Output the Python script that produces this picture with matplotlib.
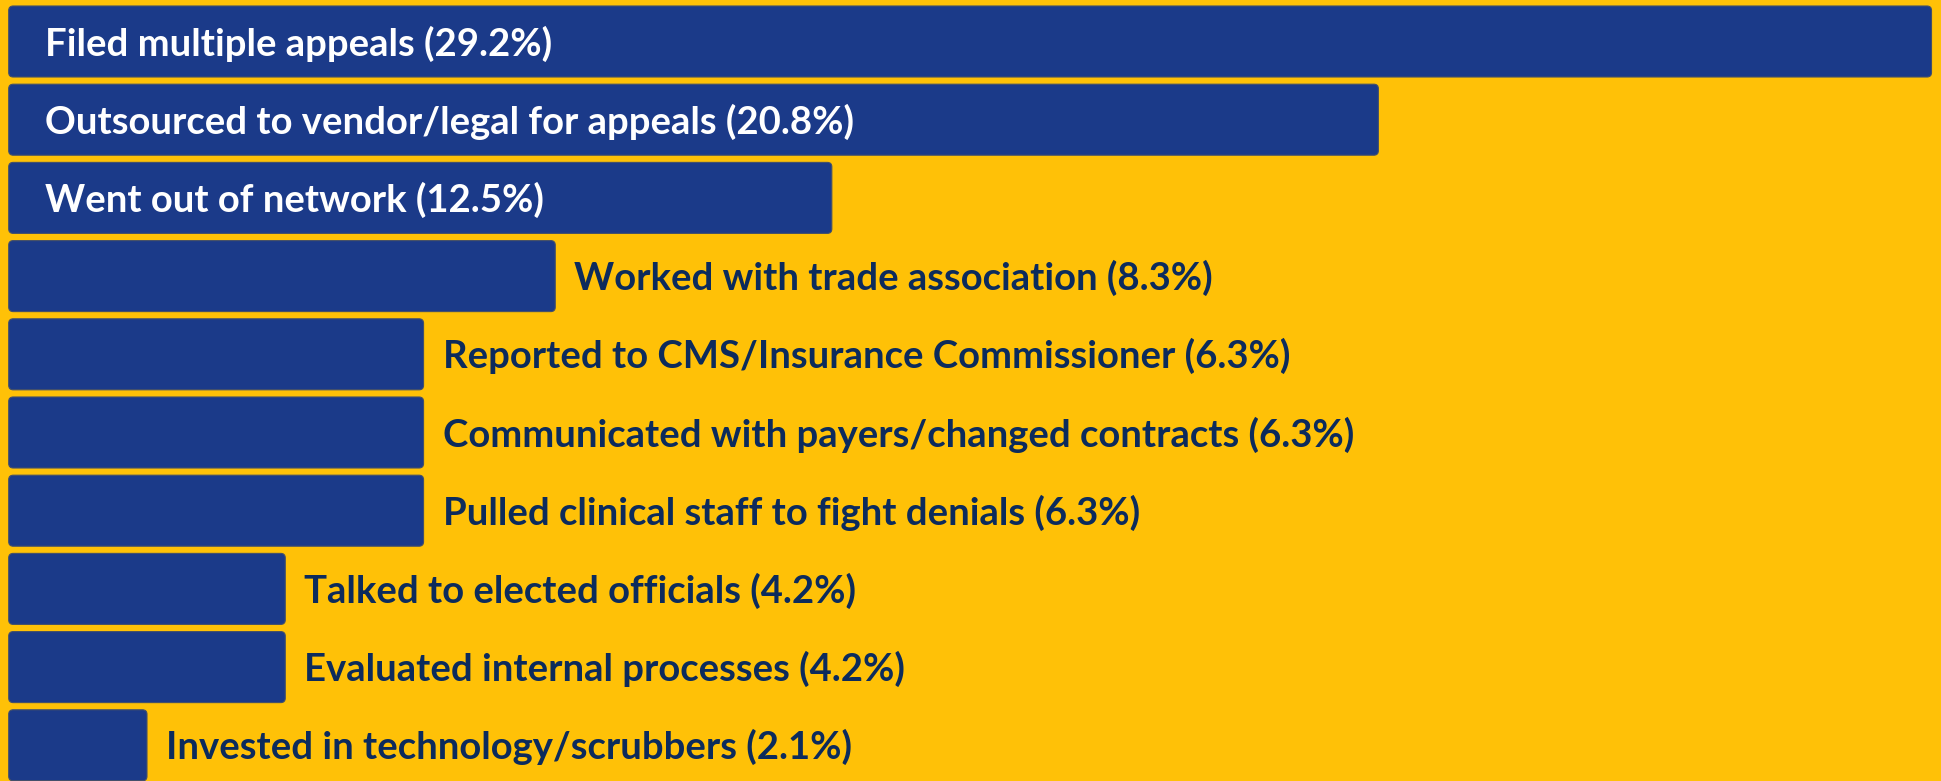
import matplotlib
matplotlib.use("Agg")
import matplotlib.pyplot as plt
from matplotlib.patches import FancyBboxPatch

# data
labels = ["Filed multiple appeals",
          "Outsourced to vendor/legal for appeals",
          "Went out of network",
          "Worked with trade association",
          "Reported to CMS/Insurance Commissioner",
          "Communicated with payers/changed contracts",
          "Pulled clinical staff to fight denials",
          "Talked to elected officials",
          "Evaluated internal processes",
          "Invested in technology/scrubbers"]
values = [29.2, 20.8, 12.5, 8.3, 6.3, 6.3, 6.3, 4.2, 4.2, 2.1]

bg = "#FFC107"
bar_col = "#1B3A89"
txt_dark = "#0C2B5C"

plt.rcParams['font.family'] = ['Lato', 'DejaVu Sans']

W, H, dpi = 1941, 781, 100
fig = plt.figure(figsize=(W / dpi, H / dpi), dpi=dpi, facecolor=bg)
ax = fig.add_axes([0, 0, 1, 1])
ax.set_facecolor(bg)

px_x = 65.85   # pixels per percent
px_y = 78.2    # pixels per bar slot
ax.set_xlim(-8.7 / px_x, (W - 8.7) / px_x)
ax.set_ylim((H - 41.5) / px_y, -41.5 / px_y)

ypos = list(range(len(values)))
bars = ax.barh(ypos, values, height=0.908, color=bar_col)

# swap plain rectangles for slightly rounded ones
r = 4.5 / px_x
for b in bars:
    x0, y0 = b.get_x(), b.get_y()
    w, h = b.get_width(), b.get_height()
    b.remove()
    ax.add_patch(FancyBboxPatch((x0, y0), w, h,
                                boxstyle=f"round,pad=0,rounding_size={r}",
                                mutation_aspect=px_x / px_y,
                                facecolor=bar_col, edgecolor="#44506a", lw=0.8))

dy = 2 / px_y
for y, v, lab in zip(ypos, values, labels):
    s = f"{lab} ({v}%)"
    if v >= 10:
        ax.text(36 / px_x, y + dy, s, color="white", fontsize=27.5,
                fontweight="bold", va="center", ha="left")
    else:
        ax.text(v + 19 / px_x, y + dy, s, color=txt_dark, fontsize=27.5,
                fontweight="bold", va="center", ha="left")

ax.axis("off")
fig.savefig("out.png", dpi=dpi, facecolor=bg)
